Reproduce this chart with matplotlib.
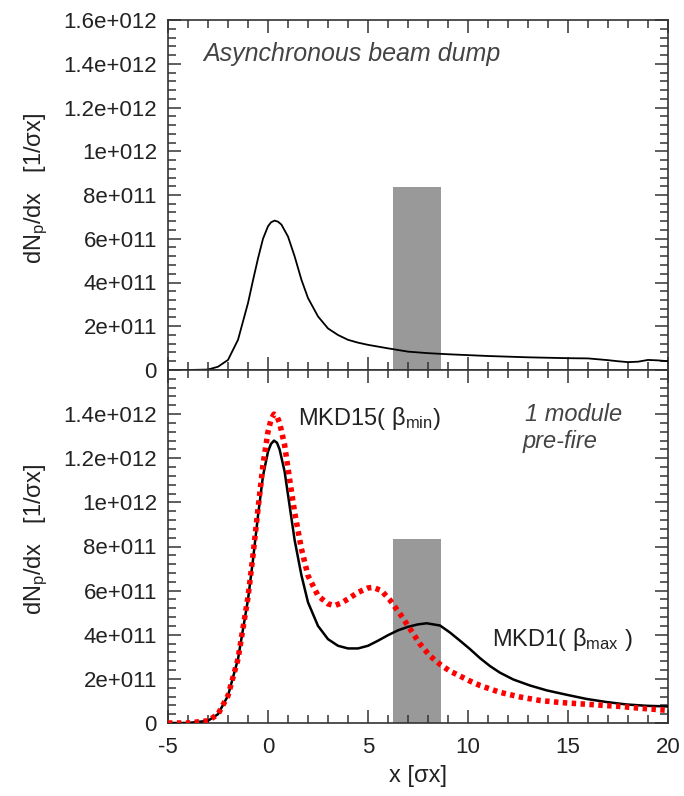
import numpy as np
import matplotlib
matplotlib.use("Agg")
import matplotlib.pyplot as plt
from matplotlib.ticker import MultipleLocator, FixedLocator, FixedFormatter

plt.rcParams['font.family'] = ['Liberation Sans', 'DejaVu Sans']
plt.rcParams['mathtext.fontset'] = 'custom'
plt.rcParams['mathtext.rm'] = 'Liberation Sans'
plt.rcParams['mathtext.it'] = 'Liberation Sans:italic'
plt.rcParams['axes.unicode_minus'] = False

# ---- data (units of 1e12 per sigma_x) ----
x_async = [-5, -4, -3, -2.5, -2, -1.5, -1, -0.75, -0.5, -0.25, 0, 0.15, 0.33, 0.5, 0.67, 1, 1.33,
           1.67, 2, 2.5, 3, 3.5, 4, 4.5, 5, 6, 7, 8, 9, 10, 11, 12, 13, 14, 15, 16, 17, 17.5, 18,
           18.5, 19, 19.5, 20]
y_async = [0, 0, 0.002, 0.015, 0.046, 0.138, 0.306, 0.41, 0.51, 0.60, 0.657, 0.675, 0.683, 0.678,
           0.665, 0.61, 0.52, 0.413, 0.329, 0.245, 0.19, 0.16, 0.138, 0.125, 0.115, 0.099, 0.084,
           0.077, 0.072, 0.068, 0.064, 0.061, 0.058, 0.056, 0.054, 0.053, 0.045, 0.040, 0.036,
           0.038, 0.046, 0.044, 0.040]

x_mkd1 = [-5, -4, -3, -2.5, -2, -1.5, -1, -0.75, -0.5, -0.25, 0, 0.15, 0.3, 0.45, 0.58, 0.83,
          1.08, 1.33, 1.67, 2, 2.5, 3, 3.5, 4, 4.5, 5, 5.5, 6, 6.5, 7, 7.5, 7.93, 8.6, 9.1, 9.6,
          10.1, 10.6, 11.1, 11.6, 12.27, 13.1, 13.93, 14.93, 15.93, 16.93, 17.93, 18.93, 20]
y_mkd1 = [0, 0, 0.01, 0.04, 0.124, 0.29, 0.56, 0.74, 0.94, 1.12, 1.23, 1.265, 1.28, 1.27, 1.24,
          1.14, 0.985, 0.83, 0.67, 0.547, 0.44, 0.38, 0.35, 0.338, 0.338, 0.35, 0.373, 0.398,
          0.42, 0.436, 0.447, 0.452, 0.442, 0.41, 0.373, 0.335, 0.294, 0.258, 0.228, 0.197, 0.17,
          0.148, 0.128, 0.109, 0.095, 0.084, 0.078, 0.075]

x_mkd15 = [-5, -4, -3, -2.5, -2, -1.5, -1, -0.75, -0.5, -0.25, 0, 0.15, 0.3, 0.45, 0.58, 0.83,
           1.08, 1.33, 1.67, 2, 2.5, 3, 3.33, 3.67, 4, 4.5, 5, 5.25, 5.67, 6.1, 6.6, 7.1, 7.6,
           8.1, 8.6, 9.1, 9.6, 10.1, 10.6, 11.6, 12.6, 13.6, 14.6, 15.6, 16.6, 17.6, 18.6, 19.6,
           20]
y_mkd15 = [0, 0, 0.01, 0.04, 0.124, 0.29, 0.57, 0.76, 0.97, 1.17, 1.32, 1.375, 1.40, 1.39, 1.36,
           1.26, 1.105, 0.955, 0.79, 0.668, 0.577, 0.54, 0.532, 0.544, 0.562, 0.592, 0.612, 0.615,
           0.60, 0.557, 0.495, 0.427, 0.358, 0.304, 0.266, 0.235, 0.213, 0.19, 0.17, 0.139,
           0.118, 0.102, 0.093, 0.087, 0.081, 0.075, 0.067, 0.060, 0.057]

band_x0, band_x1, band_h = 6.25, 8.65, 0.835

ytick_vals = [0, 0.2, 0.4, 0.6, 0.8, 1.0, 1.2, 1.4, 1.6]
ytick_labels_top = ['0', '2e+011', '4e+011', '6e+011', '8e+011', '1e+012', '1.2e+012', '1.4e+012', '1.6e+012']
ytick_labels_bot = ['0', '2e+011', '4e+011', '6e+011', '8e+011', '1e+012', '1.2e+012', '1.4e+012', '']
xticks = [-5, 0, 5, 10, 15, 20]
xtick_labels = ['-5', '0', '5', '10', '15', '20']
scale = 1e12

fig = plt.figure(figsize=(6.84, 7.96), dpi=100)
L, R = 168/684, 668/684
ax1 = fig.add_axes([L, 1-370/796, R-L, (370-20)/796])
ax2 = fig.add_axes([L, 1-723/796, R-L, (723-370)/796])

for ax, labels in ((ax1, ytick_labels_top), (ax2, ytick_labels_bot)):
    ax.bar((band_x0+band_x1)/2, band_h*scale, width=band_x1-band_x0, color='#999999', zorder=1)
    ax.set_xlim(-5, 20)
    ax.set_ylim(0, 1.6*scale)
    ax.xaxis.set_major_locator(FixedLocator(xticks))
    ax.xaxis.set_major_formatter(FixedFormatter(xtick_labels))
    ax.xaxis.set_minor_locator(MultipleLocator(1))
    ax.yaxis.set_major_locator(FixedLocator([v*scale for v in ytick_vals]))
    ax.yaxis.set_major_formatter(FixedFormatter(labels))
    ax.yaxis.set_minor_locator(MultipleLocator(0.04*scale))
    ax.tick_params(which='both', direction='in', top=True, right=True, width=1.1, color='#333333')
    ax.tick_params(which='major', length=9.5, labelsize=16, pad=8, labelcolor='#222222')
    ax.tick_params(which='minor', length=5.5)
    for s in ax.spines.values():
        s.set_linewidth(1.2)
        s.set_color('#333333')
    ax.set_ylabel(r'dN$_\mathrm{p}$/dx   [1/σx]', fontsize=17, color='#222222')
    ax.yaxis.set_label_coords(-0.236, 0.52)

ax1.plot(x_async, [v*scale for v in y_async], color='black', lw=1.3, zorder=3)
ax1.tick_params(axis='x', labelbottom=False)
ax1.text(-3.25, 1.445*scale, 'Asynchronous beam dump', fontsize=18, style='italic',
         color='#444444', va='center', ha='left')

ax2.plot(x_mkd1, [v*scale for v in y_mkd1], color='black', lw=1.8, zorder=3)
ax2.plot(x_mkd15, [v*scale for v in y_mkd15], color='#ff0000', lw=4, linestyle=(0, (0.8, 0.8)),
         zorder=4)
ax2.tick_params(axis='x', pad=10)
ax2.text(1.5, 1.38*scale, r'MKD15( $\mathrm{\beta_{min}}$)', fontsize=17, va='center', ha='left',
         color='#222222')
ax2.text(11.2, 0.38*scale, r'MKD1( $\mathrm{\beta_{max}}$ )', fontsize=17, va='center', ha='left',
         color='#222222')
ax2.text(12.85, 1.40*scale, '1 module', fontsize=17, style='italic', color='#444444',
         va='center', ha='left')
ax2.text(12.75, 1.275*scale, 'pre-fire', fontsize=17, style='italic', color='#444444',
         va='center', ha='left')

fig.text((168+668)/2/684, 1-776/796, 'x [σx]', fontsize=17, ha='center', va='center',
         color='#222222')

fig.savefig('out.png', dpi=100)
